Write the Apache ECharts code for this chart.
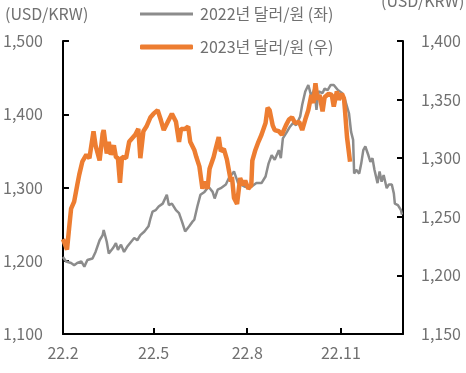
<!DOCTYPE html>
<html>
<head>
<meta charset="utf-8">
<script src="https://cdn.jsdelivr.net/npm/echarts@6/dist/echarts.min.js"></script>
<style>
html,body{margin:0;padding:0;background:#fff;}
#chart{width:466px;height:373px;}
</style>
</head>
<body>
<div id="chart"></div>
<script>
// ---- data ----
const seriesNames = ['2022년 달러/원 (좌)', '2023년 달러/원 (우)'];
const xTickLabels = ['22.2', '22.5', '22.8', '22.11'];
const xTickDates = ['2022-02-01', '2022-05-01', '2022-08-01', '2022-11-01'];
const leftTicks = [1100, 1200, 1300, 1400, 1500];
const rightTicks = [1150, 1200, 1250, 1300, 1350, 1400];

// 2022 USD/KRW (left axis), month-day
const dates2022 = ['02-01','02-04','02-09','02-12','02-15','02-19','02-22','02-25','03-02','03-05','03-09','03-12','03-13','03-16','03-18','03-22','03-25','03-27','03-30','04-02','04-05','04-09','04-12','04-15','04-18','04-22','04-26','04-28','04-30','05-03','05-06','05-10','05-14','05-16','05-19','05-23','05-26','05-29','06-01','06-05','06-08','06-10','06-13','06-16','06-20','06-24','06-28','06-30','07-03','07-06','07-11','07-14','07-17','07-19','07-23','07-30','08-05','08-10','08-15','08-19','08-22','08-25','08-28','09-01','09-03','09-05','09-09','09-12','09-15','09-18','09-22','09-24','09-27','09-30','10-03','10-06','10-08','10-10','10-14','10-16','10-19','10-22','10-25','10-29','11-02','11-05','11-09','11-11','11-13','11-14','11-16','11-19','11-21','11-23','11-25','11-28','11-30','12-02','12-04','12-07','12-09','12-11','12-13','12-16','12-18','12-21','12-23','12-24','12-27','12-30','12-31'];
const values2022 = [1205,1199,1197,1194,1197,1199,1192,1201,1203,1212,1228,1235,1242,1226,1210,1217,1224,1215,1222,1212,1219,1226,1231,1228,1235,1240,1247,1258,1267,1269,1274,1278,1290,1276,1278,1269,1265,1253,1240,1247,1253,1256,1274,1290,1294,1301,1294,1285,1297,1299,1304,1313,1318,1322,1306,1301,1301,1306,1306,1315,1333,1344,1338,1351,1340,1367,1376,1383,1388,1385,1397,1413,1431,1440,1424,1435,1406,1431,1429,1435,1433,1440,1440,1433,1429,1420,1401,1376,1365,1319,1324,1319,1333,1351,1356,1344,1335,1340,1324,1306,1322,1308,1317,1299,1304,1304,1292,1278,1276,1269,1263];

// 2023 USD/KRW (right axis), month-day
const dates2023 = ['02-01','02-02','02-05','02-07','02-09','02-12','02-15','02-17','02-20','02-24','02-27','03-03','03-05','03-09','03-12','03-13','03-16','03-18','03-20','03-23','03-25','03-27','03-29','03-31','04-04','04-07','04-10','04-13','04-16','04-18','04-21','04-24','04-28','05-01','05-05','05-08','05-11','05-15','05-19','05-23','05-26','05-28','06-01','06-04','06-06','06-10','06-12','06-15','06-18','06-20','06-23','06-25','06-29','07-01','07-04','07-06','07-09','07-12','07-16','07-17','07-19','07-22','07-25','07-28','07-30','08-02','08-05','08-06','08-09','08-12','08-15','08-19','08-21','08-23','08-26','08-28','09-01','09-04','09-08','09-11','09-14','09-17','09-21','09-24','09-27','09-30','10-03','10-05','10-07','10-09','10-11','10-14','10-16','10-20','10-23','10-25','10-28','10-30','11-02','11-04','11-05','11-07','11-10'];
const values2023 = [1231,1232,1222,1240,1257,1263,1277,1286,1297,1303,1300,1323,1311,1298,1321,1324,1304,1314,1303,1311,1301,1300,1279,1301,1300,1314,1317,1320,1325,1300,1323,1327,1335,1338,1341,1333,1324,1331,1338,1331,1314,1325,1325,1327,1314,1307,1301,1293,1274,1280,1274,1291,1301,1308,1318,1306,1308,1299,1280,1284,1266,1261,1283,1277,1281,1274,1277,1298,1307,1314,1320,1330,1343,1341,1328,1324,1323,1320,1328,1333,1335,1330,1331,1324,1333,1341,1354,1347,1364,1350,1354,1340,1352,1355,1354,1344,1357,1350,1355,1351,1341,1318,1297];

// ---- build ----
const FONT = "'Noto Sans CJK KR', 'Noto Sans', sans-serif";
const TXT = '#707070';
function ts(s){ const p = s.split('-').map(Number); return Date.UTC(p[0], p[1]-1, p[2]) / 86400000; }
function frame(md){ return ts('2022-' + md); }
const data2022 = dates2022.map((d,i)=>[frame(d), values2022[i]]);
const data2023 = dates2023.map((d,i)=>[frame(d), values2023[i]]);
const tickTs = xTickDates.map(ts);
const labelMap = {}; tickTs.forEach((t,i)=>{ labelMap[t] = xTickLabels[i]; });
function comma(v){ return String(v).replace(/\B(?=(\d{3})+(?!\d))/g, ','); }

const tickStyle = { show: true, inside: true, length: 6, lineStyle: { color: '#000', width: 2, opacity: 1 } };

const chart = echarts.init(document.getElementById('chart'), null, {renderer:'canvas'});
chart.setOption({
  animation: false,
  backgroundColor: '#fff',
  textStyle: { fontFamily: FONT },
  grid: { left: 62, right: 63, top: 41, bottom: 39, containLabel: false },
  legend: [
    { data: [seriesNames[0]], left: 140, top: 6, padding: 0, itemWidth: 53, itemHeight: 3, icon: 'rect', itemGap: 0,
      textStyle: { fontFamily: FONT, fontSize: 16, color: TXT, padding: [0,0,0,2] } },
    { data: [seriesNames[1]], left: 140, top: 39, padding: 0, itemWidth: 53, itemHeight: 5, icon: 'roundRect', itemGap: 0,
      textStyle: { fontFamily: FONT, fontSize: 16, color: TXT, padding: [0,0,0,2] } }
  ],
  graphic: [
    { type: 'text', left: 5, top: 6, style: { text: '(USD/KRW)', font: '16px ' + FONT, fill: TXT } },
    { type: 'text', left: 381, top: -7, style: { text: '(USD/KRW)', font: '16px ' + FONT, fill: TXT } }
  ],
  xAxis: {
    type: 'value',
    min: ts('2022-02-01'), max: ts('2023-01-01'),
    axisLine: { show: true, onZero: false, lineStyle: { color: '#000', width: 2 } },
    axisTick: Object.assign({ customValues: tickTs }, tickStyle),
    axisLabel: { customValues: tickTs, formatter: v => labelMap[v] || '', color: TXT, fontSize: 16, fontFamily: FONT, margin: 11, showMinLabel: true },
    splitLine: { show: false }
  },
  yAxis: [
    { type: 'value', min: leftTicks[0], max: leftTicks[leftTicks.length-1], interval: 100, position: 'left',
      axisLine: { show: true, onZero: false, lineStyle: { color: '#000', width: 2 } },
      axisTick: Object.assign({}, tickStyle),
      axisLabel: { formatter: comma, color: TXT, fontSize: 16, fontFamily: FONT, margin: 20 },
      splitLine: { show: false } },
    { type: 'value', min: rightTicks[0], max: rightTicks[rightTicks.length-1], interval: 50, position: 'right',
      axisLine: { show: true, onZero: false, lineStyle: { color: '#000', width: 2 } },
      axisTick: Object.assign({}, tickStyle),
      axisLabel: { formatter: comma, color: TXT, fontSize: 16, fontFamily: FONT, margin: 18 },
      splitLine: { show: false } }
  ],
  series: [
    { name: seriesNames[0], type: 'line', yAxisIndex: 0, data: data2022, showSymbol: false, symbol: 'none',
      lineStyle: { color: '#8C8C8C', width: 2.5 }, itemStyle: { color: '#8C8C8C' }, z: 2 },
    { name: seriesNames[1], type: 'line', yAxisIndex: 1, data: data2023, showSymbol: false, symbol: 'none',
      lineStyle: { color: '#ED7D31', width: 4.5 }, itemStyle: { color: '#ED7D31' }, z: 3 }
  ]
});
</script>
</body>
</html>
